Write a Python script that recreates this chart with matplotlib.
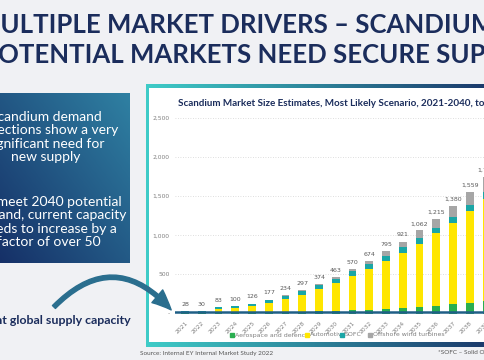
import numpy as np
import matplotlib.pyplot as plt
from matplotlib.colors import LinearSegmentedColormap
from matplotlib.patches import Rectangle, FancyArrowPatch

# chart data (tonnes)
years = [str(y) for y in range(2021, 2041)]
aerospace = [3, 4, 8, 10, 12, 15, 18, 22, 26, 32, 40, 50, 60, 72, 85, 100, 120, 140, 160, 180]
automotive = [3, 2, 50, 60, 81, 122, 168, 217, 284, 358, 442, 520, 611, 704, 810, 926, 1044, 1169, 1305, 1450]
sofc = [22, 24, 25, 28, 30, 35, 42, 50, 52, 55, 58, 62, 66, 70, 72, 74, 76, 80, 85, 90]
offshore = [0, 0, 0, 2, 3, 5, 6, 8, 12, 18, 30, 42, 58, 75, 95, 115, 140, 170, 200, 230]
totals = [28, 30, 83, 100, 126, 177, 234, 297, 374, 463, 570, 674, 795, 921, 1062, 1215, 1380, 1559, 1750, 1950]
supply_capacity = 22
series_names = ['Aerospace and defence', 'Automotive', 'SOFC', 'Offshore wind turbines']
series_colors = ['#2aae50', '#ffe600', '#1aa6a6', '#a6a6a6']
ytick_vals = [0, 500, 1000, 1500, 2000, 2500]
ytick_labels = ['-', '500', '1,000', '1,500', '2,000', '2,500']

NAVY = '#1b2d5c'
W, H = 485, 360

fig = plt.figure(figsize=(4.85, 3.6), dpi=100)
fig.patch.set_facecolor('#f0f1f4')

# slide background drawn in pixel coordinates
bg = fig.add_axes([0, 0, 1, 1])
bg.set_autoscale_on(False)
bg.set_xlim(0, W)
bg.set_ylim(H, 0)
bg.axis('off')


def grad_img(ax, x0, x1, y0, y1, c0, c1, diagonal=False):
    cmap = LinearSegmentedColormap.from_list('g', [c0, c1])
    n = 64
    j = np.linspace(0, 1, n)
    if diagonal:
        i = np.linspace(1, 0, n)[:, None]
        g = 0.55 * j[None, :] + 0.45 * i
    else:
        g = np.tile(j, (2, 1))
    ax.imshow(g, cmap=cmap, extent=(x0, x1, y1, y0), origin='upper',
              aspect='auto', interpolation='bilinear', zorder=2)


# title
bg.text(-24, 25, 'MULTIPLE MARKET DRIVERS – SCANDIUM', fontsize=18.5, fontweight='bold',
        color=NAVY, family='Lato', va='center', ha='left')
bg.text(-18, 55, 'POTENTIAL MARKETS NEED SECURE SUPPLY', fontsize=18.5, fontweight='bold',
        color=NAVY, family='Lato', va='center', ha='left')

# left text box
grad_img(bg, -20, 130, 93, 263, '#142a63', '#2f80a2', diagonal=True)
bg.text(46, 137, 'Scandium demand\nprojections show a very\nsignificant need for\nnew supply',
        fontsize=10, color='white', family='Lato', ha='center', va='center',
        linespacing=1.15, zorder=3)
bg.text(49, 222, 'To meet 2040 potential\ndemand, current capacity\nneeds to increase by a\nfactor of over 50',
        fontsize=10, color='white', family='Lato', ha='center', va='center',
        linespacing=1.15, zorder=3)

bg.text(131, 320, 'Current global supply capacity', fontsize=8.9, fontweight='bold',
        color=NAVY, family='Lato', ha='right', va='center')

# chart panel
bg.add_patch(Rectangle((147, 86), 345, 259, facecolor='white', edgecolor='none', zorder=1))
grad_img(bg, 146, 485, 84, 88, '#3ecbc7', '#1c3b6c')
grad_img(bg, 146, 485, 342, 347, '#3ecbc7', '#1c3b6c')
bg.add_patch(Rectangle((146, 84), 3, 263, facecolor='#3ecbc7', edgecolor='none', zorder=2))

bg.text(178, 103, 'Scandium Market Size Estimates, Most Likely Scenario, 2021-2040, tonnes',
        fontsize=7.1, fontweight='bold', color=NAVY, family='Lato', va='center', ha='left', zorder=3)
bg.text(140, 353, 'Source: Internal EY Internal Market Study 2022', fontsize=4.6,
        color='#555555', family='Lato', va='center', ha='left')
bg.text(438, 353, '*SOFC – Solid Oxide Fuel Cell', fontsize=4.6,
        color='#555555', family='Lato', va='center', ha='left')

# legend row under the chart
legend_x = [232, 307, 342, 370]
for lx, name, col in zip(legend_x, series_names, series_colors):
    bg.plot(lx, 335, marker='s', ms=2.2, color=col, zorder=3)
    bg.text(lx + 3, 335, name, fontsize=4.5, color='#7f7f7f', family='DejaVu Sans',
            va='center', ha='left', zorder=3)

# bar chart, placed so that it runs past the right edge like the cropped slide
x0_px, step_px = 175, 16.75
xlo, xhi = -0.6, 19.6
ax = fig.add_axes([x0_px / W, (H - 313.5) / H, (xhi - xlo) * step_px / W, 196.2 / H])
ax.set_facecolor('none')
x = np.arange(len(years))
bottom = np.zeros(len(years))
for vals, name, col in zip([aerospace, automotive, sofc, offshore], series_names, series_colors):
    ax.bar(x, vals, 0.46, bottom=bottom, color=col, label=name, zorder=3)
    bottom += np.array(vals)
for xi, t in zip(x, totals):
    ax.annotate(f'{t:,}', (xi, t), xytext=(0, 3), textcoords='offset points',
                ha='center', va='bottom', fontsize=4.5, color='#595959')
ax.axhline(supply_capacity, color='#1f5f86', lw=1.8, zorder=4)
ax.set_xlim(xlo, xhi)
ax.set_ylim(0, 2510)
ax.set_yticks(ytick_vals)
ax.set_yticklabels(ytick_labels)
ax.set_xticks(x)
ax.set_xticklabels(years, rotation=45, ha='right', rotation_mode='anchor')
ax.tick_params(length=0, labelsize=4.3, labelcolor='#7f7f7f', pad=4)
ax.tick_params(axis='x', pad=5)
ax.grid(axis='y', color='#d4d4d4', lw=0.6, linestyle=(0, (1, 2)), zorder=0)
for s in ax.spines.values():
    s.set_visible(False)

# curved arrow towards supply line
arr = FancyArrowPatch((52, 309), (173, 312), connectionstyle='arc3,rad=-0.55',
                      arrowstyle='simple,head_width=12,head_length=14,tail_width=3',
                      color='#2a6e8e', zorder=5, mutation_scale=1)
bg.add_patch(arr)

fig.savefig('out.png', dpi=100, facecolor=fig.get_facecolor())
